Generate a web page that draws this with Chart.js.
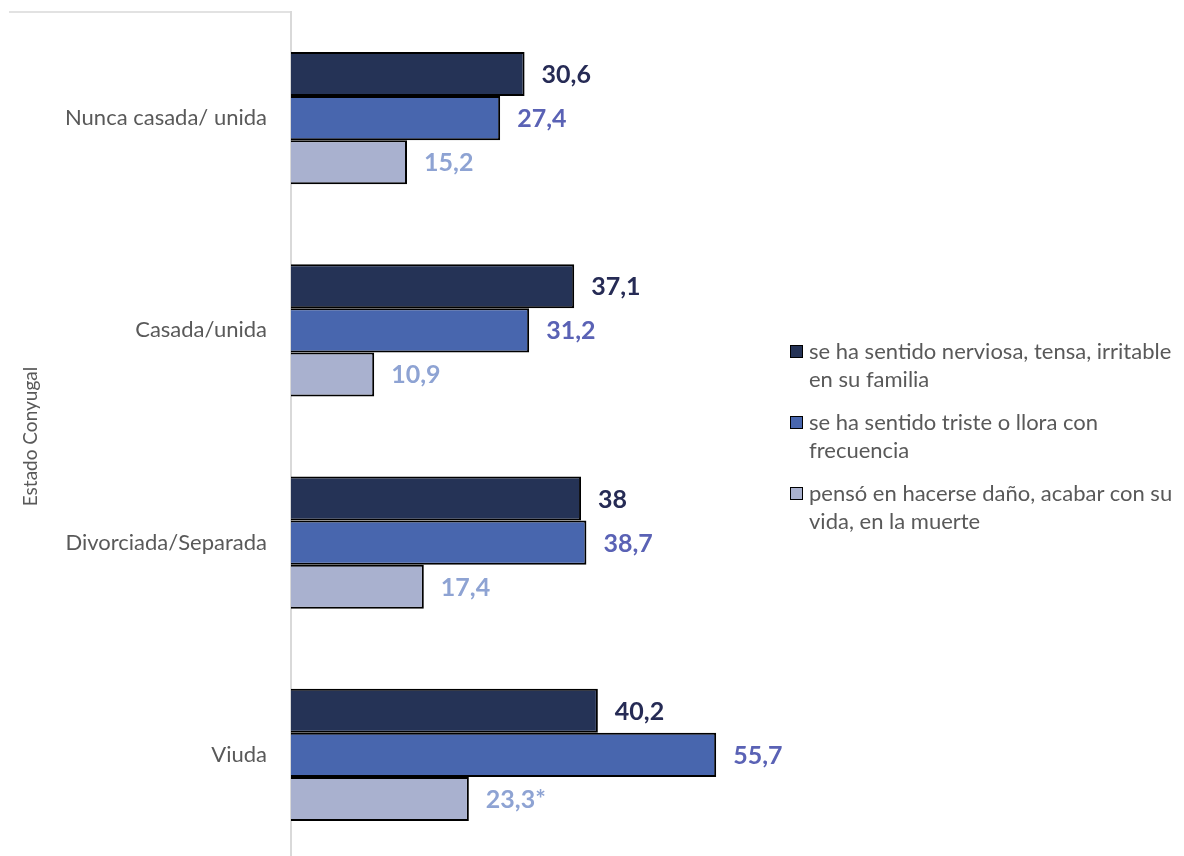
<!DOCTYPE html>
<html lang="es">
<head>
<meta charset="utf-8">
<title>Estado Conyugal</title>
<script src="https://cdn.jsdelivr.net/npm/chart.js@4.4.1/dist/chart.umd.min.js"></script>
<style>
  html, body { margin: 0; padding: 0; background: #fff; overflow: hidden; }
  #caja { position: absolute; left: 0; top: 0; width: 1184px; height: 861px; }
  #leyenda { position: absolute; left: 790px; top: 337px; font-family: Lato, sans-serif; font-size: 22px; color: #595959; }
  .item { display: flex; align-items: flex-start; margin-bottom: 15px; }
  .cuadro { width: 11px; height: 11px; border: 1.5px solid #000; margin-top: 8px; margin-right: 6px; flex: none; }
  .linea { line-height: 28px; white-space: nowrap; }
</style>
</head>
<body>
<div id="caja"><canvas id="grafico"></canvas></div>
<div id="leyenda"></div>
<script>
// Datos
const categorias = ['Nunca casada/ unida', 'Casada/unida', 'Divorciada/Separada', 'Viuda'];
const nerviosa = [30.6, 37.1, 38, 40.2];
const triste = [27.4, 31.2, 38.7, 55.7];
const danio = [15.2, 10.9, 17.4, 23.3];
const notasDanio = ['', '', '', '*'];

const nombresSeries = [
    ['se ha sentido nerviosa, tensa, irritable', 'en su familia'],
    ['se ha sentido triste o llora con', 'frecuencia'],
    ['pensó en hacerse daño, acabar con su', 'vida, en la muerte']
];
const coloresBarra = ['#253356', '#4866ae', '#a9b1cf'];
const coloresTexto = ['#262b55', '#5a62b5', '#8ea3d3'];

function formatear(v) {
    return v.toLocaleString('es-ES', { maximumFractionDigits: 1 });
}

// Leyenda en HTML (texto en dos líneas como el original)
const leyenda = document.getElementById('leyenda');
nombresSeries.forEach((lineas, i) => {
    const item = document.createElement('div');
    item.className = 'item';
    const cuadro = document.createElement('div');
    cuadro.className = 'cuadro';
    cuadro.style.background = coloresBarra[i];
    const texto = document.createElement('div');
    lineas.forEach(l => {
        const d = document.createElement('div');
        d.className = 'linea';
        d.textContent = l;
        texto.appendChild(d);
    });
    item.appendChild(cuadro);
    item.appendChild(texto);
    leyenda.appendChild(item);
});

// Etiquetas de valor al final de cada barra
const etiquetasValor = {
    id: 'etiquetasValor',
    afterDatasetsDraw(chart) {
        const ctx = chart.ctx;
        ctx.save();
        ctx.font = 'bold 25px Lato, sans-serif';
        ctx.textBaseline = 'middle';
        ctx.textAlign = 'left';
        chart.data.datasets.forEach((ds, i) => {
            const meta = chart.getDatasetMeta(i);
            meta.data.forEach((barra, j) => {
                const extra = ds.notas ? ds.notas[j] : '';
                ctx.fillStyle = coloresTexto[i];
                ctx.fillText(formatear(ds.data[j]) + extra, barra.x + 17, barra.y + 1);
            });
        });
        ctx.restore();
    }
};

// Línea gris superior del área
const marco = {
    id: 'marco',
    beforeDraw(chart) {
        const { ctx, chartArea } = chart;
        ctx.save();
        ctx.strokeStyle = '#d9d9d9';
        ctx.lineWidth = 1.5;
        ctx.beginPath();
        ctx.moveTo(9, chartArea.top);
        ctx.lineTo(chartArea.left, chartArea.top);
        ctx.stroke();
        ctx.restore();
    }
};

new Chart(document.getElementById('grafico'), {
    type: 'bar',
    data: {
        labels: categorias,
        datasets: [
            { label: nombresSeries[0].join(' '), data: nerviosa, backgroundColor: coloresBarra[0] },
            { label: nombresSeries[1].join(' '), data: triste, backgroundColor: coloresBarra[1] },
            { label: nombresSeries[2].join(' '), data: danio, backgroundColor: coloresBarra[2], notas: notasDanio }
        ].map(d => Object.assign(d, {
            borderColor: '#000',
            borderWidth: 2,
            categoryPercentage: 0.622,
            barPercentage: 1
        }))
    },
    options: {
        indexAxis: 'y',
        responsive: true,
        maintainAspectRatio: false,
        animation: false,
        layout: { padding: { top: 12, right: 435, bottom: 0, left: 0 } },
        plugins: {
            legend: { display: false },
            tooltip: { enabled: false }
        },
        scales: {
            x: { display: false, min: 0, max: 60 },
            y: {
                afterFit(scale) {
                    scale.width = 291;
                    scale.paddingTop = 0;
                    scale.paddingBottom = 0;
                },
                grid: { display: false, drawTicks: false },
                border: { display: true, color: '#d9d9d9', width: 2 },
                ticks: { color: '#595959', padding: 24, font: { family: 'Lato', size: 22 } },
                title: {
                    display: true,
                    text: 'Estado Conyugal',
                    color: '#595959',
                    font: { family: 'Lato', size: 19 },
                    padding: { top: 19, bottom: 0 }
                }
            }
        }
    },
    plugins: [etiquetasValor, marco]
});
</script>
</body>
</html>
